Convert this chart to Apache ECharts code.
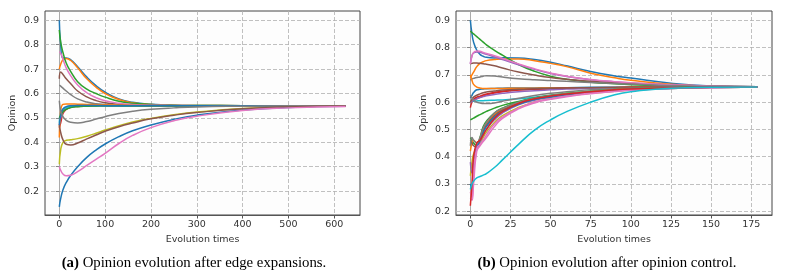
<!DOCTYPE html>
<html><head><meta charset="utf-8">
<script src="https://cdn.jsdelivr.net/npm/echarts@6/dist/echarts.min.js"></script>
<style>html,body{margin:0;padding:0;background:#fff}#c{width:791px;height:275px}</style>
</head><body><div id="c"></div>
<script>
// ---------- Data: panel (a) ----------
const tA = [0, 3, 8, 15, 25, 40, 60, 80, 100, 130, 160, 200, 250, 300, 400, 500, 625];
const a_blue1   = [0.90, 0.80, 0.745, 0.745, 0.738, 0.71, 0.667, 0.632, 0.605, 0.578, 0.564, 0.556, 0.552, 0.551, 0.55, 0.55, 0.55];
const a_orange1 = [0.70, 0.72, 0.738, 0.743, 0.735, 0.705, 0.66, 0.626, 0.60, 0.575, 0.562, 0.555, 0.552, 0.551, 0.55, 0.55, 0.55];
const a_green1  = [0.86, 0.81, 0.768, 0.725, 0.69, 0.648, 0.618, 0.60, 0.585, 0.568, 0.56, 0.555, 0.552, 0.551, 0.55, 0.55, 0.55];
const a_pink1   = [0.77, 0.765, 0.74, 0.705, 0.672, 0.635, 0.603, 0.583, 0.57, 0.56, 0.555, 0.552, 0.551, 0.55, 0.55, 0.55, 0.55];
const a_brown1  = [0.66, 0.688, 0.678, 0.66, 0.64, 0.61, 0.586, 0.571, 0.562, 0.556, 0.553, 0.551, 0.55, 0.55, 0.55, 0.55, 0.55];
const a_gray1   = [0.635, 0.63, 0.622, 0.61, 0.595, 0.578, 0.565, 0.558, 0.555, 0.552, 0.551, 0.55, 0.55, 0.55, 0.55, 0.55, 0.55];
const a_orange2 = [0.42, 0.53, 0.555, 0.557, 0.557, 0.556, 0.555, 0.554, 0.553, 0.552, 0.551, 0.55, 0.55, 0.55, 0.55, 0.55, 0.55];
const a_blue2   = [0.47, 0.51, 0.537, 0.546, 0.55, 0.551, 0.551, 0.551, 0.55, 0.55, 0.55, 0.55, 0.55, 0.55, 0.55, 0.55, 0.55];
const a_purple1 = [0.47, 0.50, 0.525, 0.538, 0.545, 0.548, 0.549, 0.55, 0.55, 0.55, 0.55, 0.55, 0.55, 0.55, 0.55, 0.55, 0.55];
const a_red1    = [0.46, 0.48, 0.518, 0.535, 0.543, 0.547, 0.549, 0.55, 0.55, 0.55, 0.55, 0.55, 0.55, 0.55, 0.55, 0.55, 0.55];
const a_green2  = [0.50, 0.51, 0.525, 0.535, 0.542, 0.546, 0.548, 0.549, 0.55, 0.55, 0.55, 0.55, 0.55, 0.55, 0.55, 0.55, 0.55];
const a_cyan1   = [0.48, 0.52, 0.535, 0.542, 0.546, 0.548, 0.549, 0.55, 0.55, 0.55, 0.55, 0.55, 0.55, 0.55, 0.55, 0.55, 0.55];
const a_gray2   = [0.57, 0.53, 0.505, 0.49, 0.482, 0.479, 0.485, 0.495, 0.505, 0.518, 0.527, 0.535, 0.541, 0.545, 0.548, 0.55, 0.55];
const a_olive1  = [0.31, 0.37, 0.40, 0.408, 0.41, 0.415, 0.425, 0.437, 0.45, 0.468, 0.483, 0.498, 0.513, 0.524, 0.538, 0.545, 0.549];
const a_brown2  = [0.47, 0.44, 0.41, 0.392, 0.389, 0.397, 0.414, 0.43, 0.445, 0.464, 0.479, 0.496, 0.511, 0.522, 0.537, 0.545, 0.549];
const a_blue3   = [0.135, 0.17, 0.205, 0.235, 0.265, 0.30, 0.338, 0.368, 0.393, 0.423, 0.447, 0.471, 0.494, 0.511, 0.532, 0.543, 0.548];
const a_pink2   = [0.30, 0.285, 0.27, 0.263, 0.265, 0.28, 0.305, 0.33, 0.355, 0.395, 0.428, 0.46, 0.488, 0.507, 0.53, 0.541, 0.547];

// ---------- Data: panel (b) ----------
const tB = [0, 1, 2, 4, 6, 8, 10, 15, 20, 30, 40, 50, 60, 75, 90, 100, 125, 150, 179];
const b_blue1   = [0.90, 0.85, 0.82, 0.79, 0.775, 0.768, 0.764, 0.762, 0.763, 0.762, 0.756, 0.746, 0.733, 0.712, 0.696, 0.688, 0.669, 0.659, 0.656];
const b_orange1 = [0.69, 0.70, 0.71, 0.73, 0.742, 0.748, 0.752, 0.756, 0.758, 0.758, 0.752, 0.742, 0.73, 0.706, 0.689, 0.68, 0.665, 0.658, 0.655];
const b_green1  = [0.86, 0.855, 0.85, 0.84, 0.83, 0.82, 0.81, 0.79, 0.772, 0.738, 0.713, 0.695, 0.684, 0.673, 0.667, 0.664, 0.66, 0.657, 0.656];
const b_red1    = [0.58, 0.60, 0.61, 0.618, 0.622, 0.626, 0.63, 0.636, 0.64, 0.645, 0.648, 0.65, 0.651, 0.652, 0.653, 0.654, 0.655, 0.655, 0.655];
const b_purple1 = [0.74, 0.77, 0.78, 0.784, 0.783, 0.779, 0.775, 0.766, 0.756, 0.737, 0.72, 0.705, 0.694, 0.682, 0.674, 0.67, 0.663, 0.658, 0.656];
const b_brown1  = [0.74, 0.742, 0.743, 0.743, 0.742, 0.741, 0.739, 0.733, 0.725, 0.71, 0.699, 0.69, 0.684, 0.676, 0.671, 0.668, 0.662, 0.658, 0.656];
const b_pink1   = [0.74, 0.77, 0.782, 0.787, 0.786, 0.782, 0.778, 0.77, 0.76, 0.74, 0.722, 0.707, 0.695, 0.683, 0.675, 0.671, 0.664, 0.659, 0.656];
const b_gray1   = [0.68, 0.685, 0.687, 0.69, 0.692, 0.695, 0.697, 0.696, 0.692, 0.686, 0.682, 0.679, 0.676, 0.672, 0.668, 0.666, 0.661, 0.658, 0.656];
const b_cyan1   = [0.60, 0.602, 0.603, 0.604, 0.605, 0.605, 0.606, 0.607, 0.608, 0.612, 0.618, 0.624, 0.629, 0.636, 0.642, 0.645, 0.65, 0.653, 0.655];
const b_blue2   = [0.615, 0.625, 0.635, 0.645, 0.647, 0.648, 0.649, 0.65, 0.651, 0.652, 0.652, 0.653, 0.653, 0.654, 0.654, 0.654, 0.655, 0.655, 0.655];
const b_orange2 = [0.70, 0.68, 0.665, 0.655, 0.652, 0.65, 0.65, 0.65, 0.65, 0.651, 0.651, 0.652, 0.652, 0.653, 0.653, 0.654, 0.654, 0.655, 0.655];
const b_green2  = [0.535, 0.538, 0.541, 0.548, 0.554, 0.56, 0.566, 0.578, 0.588, 0.602, 0.613, 0.622, 0.629, 0.637, 0.643, 0.646, 0.651, 0.654, 0.655];
const b_red2    = [0.60, 0.603, 0.607, 0.613, 0.618, 0.622, 0.626, 0.633, 0.638, 0.644, 0.647, 0.649, 0.651, 0.652, 0.653, 0.654, 0.655, 0.655, 0.655];
const b_purple2 = [0.60, 0.603, 0.607, 0.612, 0.617, 0.62, 0.623, 0.628, 0.632, 0.638, 0.642, 0.645, 0.648, 0.65, 0.652, 0.653, 0.654, 0.655, 0.655];
const b_gray2   = [0.625, 0.615, 0.607, 0.60, 0.597, 0.595, 0.595, 0.597, 0.603, 0.614, 0.624, 0.632, 0.638, 0.645, 0.649, 0.651, 0.654, 0.655, 0.655];
const b_brown2  = [0.60, 0.61, 0.618, 0.625, 0.63, 0.634, 0.637, 0.641, 0.644, 0.647, 0.649, 0.651, 0.652, 0.653, 0.654, 0.654, 0.655, 0.655, 0.655];
const b_green3  = [0.47, 0.46, 0.45, 0.44, 0.47, 0.51, 0.53, 0.56, 0.578, 0.60, 0.615, 0.625, 0.632, 0.64, 0.646, 0.649, 0.653, 0.655, 0.655];
const b_orange3 = [0.42, 0.45, 0.46, 0.45, 0.465, 0.50, 0.522, 0.555, 0.573, 0.597, 0.612, 0.622, 0.63, 0.638, 0.645, 0.648, 0.652, 0.654, 0.655];
const b_brown3  = [0.46, 0.45, 0.44, 0.435, 0.455, 0.49, 0.515, 0.55, 0.57, 0.595, 0.61, 0.62, 0.628, 0.637, 0.644, 0.647, 0.652, 0.654, 0.655];
const b_olive1  = [0.33, 0.38, 0.41, 0.43, 0.445, 0.47, 0.49, 0.525, 0.55, 0.58, 0.60, 0.613, 0.622, 0.632, 0.64, 0.644, 0.65, 0.653, 0.655];
const b_pink2   = [0.25, 0.24, 0.30, 0.42, 0.44, 0.455, 0.47, 0.51, 0.54, 0.575, 0.597, 0.61, 0.62, 0.631, 0.639, 0.643, 0.65, 0.653, 0.655];
const b_pink3   = [0.27, 0.25, 0.35, 0.43, 0.445, 0.46, 0.48, 0.52, 0.545, 0.578, 0.60, 0.612, 0.622, 0.633, 0.64, 0.644, 0.65, 0.653, 0.655];
const b_purple3 = [0.38, 0.34, 0.38, 0.44, 0.455, 0.48, 0.50, 0.535, 0.56, 0.59, 0.607, 0.618, 0.626, 0.635, 0.642, 0.646, 0.651, 0.654, 0.655];
const b_blue3   = [0.30, 0.28, 0.35, 0.43, 0.46, 0.49, 0.51, 0.545, 0.565, 0.592, 0.609, 0.619, 0.627, 0.636, 0.643, 0.646, 0.651, 0.654, 0.655];
const b_gray3   = [0.44, 0.47, 0.46, 0.45, 0.47, 0.505, 0.525, 0.56, 0.577, 0.60, 0.614, 0.624, 0.631, 0.639, 0.645, 0.648, 0.652, 0.654, 0.655];
const b_red3    = [0.22, 0.30, 0.40, 0.45, 0.46, 0.48, 0.50, 0.54, 0.565, 0.595, 0.612, 0.622, 0.63, 0.638, 0.645, 0.648, 0.652, 0.654, 0.655];
const b_cyan2   = [0.28, 0.30, 0.31, 0.322, 0.327, 0.332, 0.338, 0.36, 0.388, 0.445, 0.497, 0.535, 0.565, 0.60, 0.627, 0.638, 0.651, 0.654, 0.655];

// ---------- Tick labels ----------
const xTicksA = [0, 100, 200, 300, 400, 500, 600];
const xTicksB = [0, 25, 50, 75, 100, 125, 150, 175];
const yTicks = [0.2, 0.3, 0.4, 0.5, 0.6, 0.7, 0.8, 0.9];
const xName = 'Evolution times';
const yName = 'Opinion';
const captionA = ['(a)', 'Opinion evolution after edge expansions.'];
const captionB = ['(b)', 'Opinion evolution after opinion control.'];

// ---------- Styling / building ----------
const C = {blue:'#1f77b4', orange:'#ff7f0e', green:'#2ca02c', red:'#d62728', purple:'#9467bd',
  brown:'#8c564b', pink:'#e377c2', gray:'#7f7f7f', olive:'#bcbd22', cyan:'#17becf'};

const seriesA = [
  [a_blue1,'blue'],[a_orange1,'orange'],[a_green1,'green'],[a_red1,'red'],[a_purple1,'purple'],
  [a_brown1,'brown'],[a_pink1,'pink'],[a_gray1,'gray'],[a_olive1,'olive'],[a_cyan1,'cyan'],
  [a_blue3,'blue'],[a_orange2,'orange'],[a_green2,'green'],[a_blue2,'blue'],[a_gray2,'gray'],
  [a_brown2,'brown'],[a_pink2,'pink']
];
const seriesB = [
  [b_blue1,'blue'],[b_orange1,'orange'],[b_green1,'green'],[b_red1,'red'],[b_purple1,'purple'],
  [b_brown1,'brown'],[b_pink1,'pink'],[b_gray1,'gray'],[b_olive1,'olive'],[b_cyan1,'cyan'],
  [b_blue2,'blue'],[b_orange2,'orange'],[b_green2,'green'],[b_red2,'red'],[b_purple2,'purple'],
  [b_brown2,'brown'],[b_gray2,'gray'],[b_green3,'green'],[b_orange3,'orange'],[b_brown3,'brown'],
  [b_purple3,'purple'],[b_blue3,'blue'],[b_gray3,'gray'],[b_pink2,'pink'],[b_pink3,'pink'],
  [b_red3,'red'],[b_cyan2,'cyan']
];

function mkSeries(list, t, idx) {
  return list.map(([vals, col]) => ({
    type: 'line', xAxisIndex: idx, yAxisIndex: idx,
    data: vals.map((v, i) => [t[i], v]),
    showSymbol: false, symbol: 'none', smooth: 0.5,
    lineStyle: {width: 1.5, color: C[col]}, silent: true
  }));
}

const font = 'DejaVu Sans';
const fs = 9.5;
const splitLine = {show: true, lineStyle: {color: '#b0b0b0', width: 0.8, type: [4, 2]}};
function xAxis(idx, min, max, ticks) {
  return {
    type: 'value', gridIndex: idx, min: min, max: max,
    name: xName, nameLocation: 'middle', nameGap: 18,
    nameTextStyle: {fontFamily: font, fontSize: fs, color: '#333'},
    axisLine: {show: true, lineStyle: {color: '#555', width: 1}},
    axisTick: {show: true, length: 3.5, inside: false, lineStyle: {color: '#555'}, customValues: ticks},
    axisLabel: {customValues: ticks, fontFamily: font, fontSize: fs, color: '#333', margin: 5,
      formatter: v => String(Math.round(v))},
    splitLine: splitLine
  };
}
function yAxis(idx, min, max) {
  return {
    type: 'value', gridIndex: idx, min: min, max: max,
    name: yName, nameLocation: 'middle', nameGap: 27, nameRotate: 90,
    nameTextStyle: {fontFamily: font, fontSize: fs, color: '#333'},
    axisLine: {show: true, lineStyle: {color: '#aaa', width: 1}},
    axisTick: {show: true, length: 3.5, lineStyle: {color: '#888'}, customValues: yTicks},
    axisLabel: {customValues: yTicks, fontFamily: font, fontSize: fs, color: '#333', margin: 6,
      formatter: v => v.toFixed(1)},
    splitLine: splitLine
  };
}
function caption(x, y, parts) {
  return {
    type: 'text', x: x, y: y, silent: true,
    style: {
      text: '{b|' + parts[0] + '} ' + parts[1],
      align: 'center', verticalAlign: 'middle',
      fontFamily: 'Liberation Serif', fontSize: 14.8, fill: '#000',
      rich: {b: {fontFamily: 'Liberation Serif', fontSize: 14.8, fontWeight: 'bold', fill: '#000'}}
    }
  };
}

const chart = echarts.init(document.getElementById('c'), null, {renderer: 'canvas'});
chart.setOption({
  animation: false,
  backgroundColor: '#fff',
  grid: [
    {left: 45, top: 11, width: 315, height: 204, show: true, borderColor: '#444', borderWidth: 1, backgroundColor: '#fdfdfd'},
    {left: 456, top: 11, width: 316, height: 204, show: true, borderColor: '#444', borderWidth: 1, backgroundColor: '#fdfdfd'}
  ],
  xAxis: [xAxis(0, -31.25, 656.25, xTicksA), xAxis(1, -8.95, 187.95, xTicksB)],
  yAxis: [yAxis(0, 0.102, 0.938), yAxis(1, 0.186, 0.934)],
  series: mkSeries(seriesA, tA, 0).concat(mkSeries(seriesB, tB, 1)),
  graphic: [caption(194, 263, captionA), caption(607, 263, captionB)]
});
</script></body></html>
